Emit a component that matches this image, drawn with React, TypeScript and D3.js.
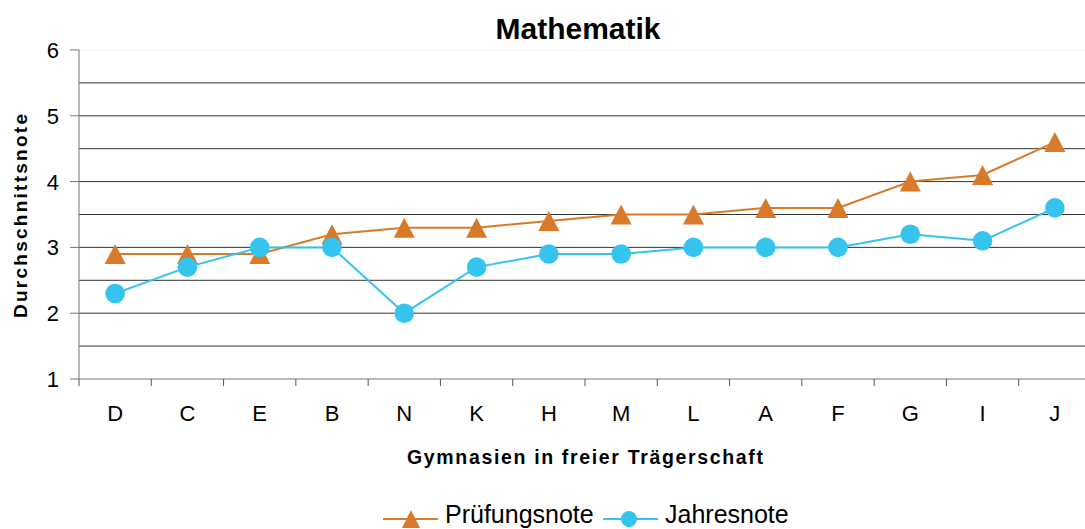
import React from "react";
import * as d3 from "d3";

const categories = ["D", "C", "E", "B", "N", "K", "H", "M", "L", "A", "F", "G", "I", "J"];
const pruefung = [2.9, 2.9, 2.9, 3.2, 3.3, 3.3, 3.4, 3.5, 3.5, 3.6, 3.6, 4.0, 4.1, 4.6];
const jahres = [2.3, 2.7, 3.0, 3.0, 2.0, 2.7, 2.9, 2.9, 3.0, 3.0, 3.0, 3.2, 3.1, 3.6];
const yTicks = [1, 2, 3, 4, 5, 6];
const gridValues = [1.5, 2, 2.5, 3, 3.5, 4, 4.5, 5, 5.5, 6];

const W = 1085;
const H = 529;
const m = { left: 79, right: -6, top: 50, bottom: 150 };
const ORANGE = "#D9792A";
const BLUE = "#35C4EE";
const FONT = "'Liberation Sans', Arial, sans-serif";

// triangle centred on its bounding box (w x h)
function triPath(w: number, h: number) {
  const p = d3.path();
  p.moveTo(0, -h / 2);
  p.lineTo(w / 2, h / 2);
  p.lineTo(-w / 2, h / 2);
  p.closePath();
  return p.toString();
}

export default function App() {
  const x = d3.scaleBand<string>().domain(categories).range([m.left, W - m.right]);
  const y = d3.scaleLinear().domain([1, 6]).range([H - m.bottom, m.top]);
  const cx = (c: string) => (x(c) as number) + x.bandwidth() / 2;
  const line = d3
    .line<number>()
    .x((_, i) => cx(categories[i]))
    .y((d) => y(d));
  const tri = triPath(21, 20);
  const triLegend = triPath(18, 18);
  const plotRight = W - m.right;

  return (
    <svg width={W} height={H} style={{ position: "absolute", left: 0, top: 0, background: "#fff" }} fontFamily={FONT}>
      <rect x={0} y={0} width={W} height={H} fill="#fff" />
      {gridValues.map((v) => (
        <line key={v} x1={m.left} x2={plotRight} y1={y(v)} y2={y(v)} stroke={v === 6 ? "#f0f0f0" : "#333"} strokeWidth={1} />
      ))}
      {/* y axis */}
      <line x1={m.left} x2={m.left} y1={y(6)} y2={y(1)} stroke="#777" strokeWidth={1} />
      {yTicks.map((t) => (
        <g key={t}>
          <line x1={m.left - 9} x2={m.left} y1={y(t)} y2={y(t)} stroke="#777" />
          <text x={59} y={y(t)} dy="0.36em" textAnchor="end" fontSize={22}>{t}</text>
        </g>
      ))}
      {/* x axis */}
      <line x1={m.left} x2={plotRight} y1={y(1)} y2={y(1)} stroke="#777" />
      {categories.map((c) => (
        <g key={c}>
          <line x1={x(c) as number} x2={x(c) as number} y1={y(1)} y2={y(1) + 7} stroke="#555" />
          <text x={cx(c)} y={421} textAnchor="middle" fontSize={22}>{c}</text>
        </g>
      ))}
      {/* series */}
      <path d={line(pruefung) || ""} fill="none" stroke={ORANGE} strokeWidth={2} />
      <path d={line(jahres) || ""} fill="none" stroke={BLUE} strokeWidth={2} />
      {pruefung.map((v, i) => (
        <path key={"p" + i} d={tri} transform={`translate(${cx(categories[i])},${y(v)})`} fill={ORANGE} />
      ))}
      {jahres.map((v, i) => (
        <circle key={"j" + i} cx={cx(categories[i])} cy={y(v)} r={9.8} fill={BLUE} />
      ))}
      {/* titles */}
      <text x={578} y={39} textAnchor="middle" fontSize={30} fontWeight="bold">Mathematik</text>
      <text transform={`translate(27,216) rotate(-90)`} textAnchor="middle" fontSize={19} fontWeight="bold" textLength={204} lengthAdjust="spacing">Durchschnittsnote</text>
      <text x={407} y={464} fontSize={19.5} fontWeight="bold" textLength={356} lengthAdjust="spacing">Gymnasien in freier Trägerschaft</text>
      {/* legend */}
      <g>
        <line x1={383} x2={438} y1={519} y2={519} stroke={ORANGE} strokeWidth={2} />
        <path d={triLegend} transform="translate(411,519)" fill={ORANGE} />
        <text x={445} y={523} fontSize={25}>Prüfungsnote</text>
        <line x1={603} x2={658} y1={519} y2={519} stroke={BLUE} strokeWidth={2} />
        <circle cx={629} cy={519} r={8} fill={BLUE} />
        <text x={665} y={523} fontSize={25}>Jahresnote</text>
      </g>
    </svg>
  );
}
